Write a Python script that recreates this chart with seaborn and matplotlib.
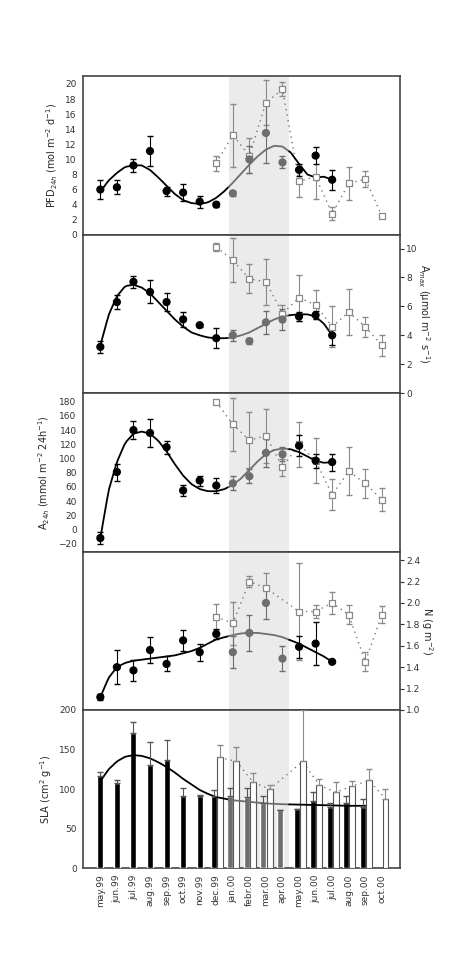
import numpy as np
import matplotlib
matplotlib.use("Agg")
import matplotlib.pyplot as plt
import seaborn as sns

sns.set_theme(style="white")
plt.rcParams['font.family'] = ['DejaVu Sans']

months = ["may.99", "jun.99", "jul.99", "aug.99", "sep.99", "oct.99", "nov.99", "dec.99",
          "jan.00", "febr.00", "mar.00", "apr.00", "may.00", "jun.00", "jul.00", "aug.00",
          "sep.00", "oct.00"]
circ_x = list(range(15))
sq_x = list(range(7, 18))
curve_x = [0, 0.5, 1, 1.5, 2, 2.5, 3, 3.5, 4, 4.5, 5, 5.5, 6, 6.5, 7, 7.5, 8, 8.5, 9, 9.5,
           10, 10.5, 11, 11.5, 12, 12.5, 13, 13.5, 14]

# PFD
pfd_c = [6.0, 6.3, 9.2, 11.1, 5.8, 5.6, 4.4, 4.0, 5.5, 10.0, 13.5, 9.6, 8.6, 10.5, 7.3]
pfd_ce = [1.3, 0.9, 0.9, 2.0, 0.6, 1.1, 0.8, 0.3, 0.3, 1.8, 4.0, 0.8, 0.8, 1.1, 1.3]
pfd_s = [9.5, 13.2, 10.5, 17.5, 19.3, 7.1, 7.7, 2.8, 6.8, 7.4, 2.5]
pfd_se = [1.0, 4.2, 2.3, 3.0, 0.9, 2.1, 2.9, 0.9, 2.2, 1.1, 0.3]
pfd_fit = [5.7, 7.2, 8.2, 9.0, 9.2, 9.2, 8.6, 7.6, 6.5, 5.4, 4.6, 4.2, 4.1, 4.3, 4.9, 5.8,
           6.9, 8.1, 9.3, 10.4, 11.3, 11.8, 11.7, 10.9, 9.4, 8.0, 7.6, 7.7, 7.3]
# Amax
amax_c = [3.2, 6.3, 7.7, 7.0, 6.3, 5.1, 4.7, 3.8, 4.0, 3.6, 4.9, 5.1, 5.3, 5.4, 4.0]
amax_ce = [0.4, 0.5, 0.4, 0.8, 0.6, 0.5, 0.1, 0.7, 0.4, 0.2, 0.8, 0.7, 0.3, 0.3, 0.7]
amax_s = [10.1, 9.2, 7.9, 7.7, 5.5, 6.6, 6.1, 4.6, 5.6, 4.6, 3.3]
amax_se = [0.3, 1.5, 1.0, 1.6, 0.6, 1.6, 1.0, 1.4, 1.6, 0.7, 0.7]
amax_fit = [3.3, 5.4, 6.7, 7.4, 7.5, 7.3, 6.9, 6.3, 5.7, 5.1, 4.6, 4.2, 4.0, 3.85, 3.8, 3.8,
            3.85, 4.0, 4.2, 4.5, 4.8, 5.1, 5.3, 5.4, 5.45, 5.45, 5.3, 4.8, 4.0]
# A24h
a24_c = [-12, 81, 140, 136, 116, 55, 69, 62, 65, 75, 108, 106, 118, 97, 95]
a24_ce = [8, 12, 13, 20, 9, 8, 7, 10, 10, 10, 20, 10, 15, 10, 12]
a24_s = [180, 148, 126, 132, 88, 120, 97, 49, 82, 65, 42]
a24_se = [3, 37, 40, 38, 12, 32, 32, 22, 34, 20, 16]
a24_fit = [-12, 55, 95, 122, 135, 138, 135, 125, 110, 92, 76, 64, 57, 54, 54, 57, 63, 72,
           84, 96, 106, 112, 114, 113, 109, 103, 97, 94, 95]
# N
n_c = [1.12, 1.40, 1.37, 1.56, 1.43, 1.65, 1.54, 1.71, 1.54, 1.72, 2.00, 1.48, 1.59, 1.62, 1.45]
n_ce = [0.03, 0.16, 0.10, 0.12, 0.07, 0.10, 0.08, 0.05, 0.15, 0.17, 0.15, 0.12, 0.10, 0.20, 0.0]
n_sx = [7, 8, 9, 10, 12, 13, 14, 15, 16, 17]
n_s = [1.87, 1.81, 2.20, 2.14, 1.92, 1.92, 2.00, 1.89, 1.45, 1.89]
n_se = [0.12, 0.20, 0.05, 0.14, 0.45, 0.06, 0.10, 0.09, 0.09, 0.08]
n_fit = [1.12, 1.30, 1.40, 1.44, 1.46, 1.47, 1.48, 1.49, 1.50, 1.51, 1.53, 1.55, 1.58, 1.62,
         1.66, 1.68, 1.70, 1.715, 1.72, 1.72, 1.71, 1.70, 1.68, 1.65, 1.62, 1.58, 1.54, 1.50, 1.45]
# SLA
sla_bx = list(range(17))
sla_b = [117, 108, 171, 130, 137, 92, 92, 92, 92, 90, 82, 74, 75, 85, 78, 82, 78]
sla_be = [5, 4, 14, 30, 25, 9, 1, 7, 9, 12, 9, 0, 0, 11, 5, 10, 10]
sla_wx = [7, 8, 9, 10, 12, 13, 14, 15, 16, 17]
sla_w = [140, 135, 109, 100, 135, 105, 96, 104, 111, 88]
sla_we = [16, 18, 12, 5, 65, 8, 13, 6, 14, 12]
sla_fit_x = [0, 0.5, 1, 1.5, 2, 2.5, 3, 3.5, 4, 4.5, 5, 5.5, 6, 6.5, 7, 7.5, 8, 9, 10, 11,
             12, 13, 14, 15, 16]
sla_fit = [110, 125, 135, 141, 143, 142, 139, 134, 128, 121, 113, 106, 99, 94, 90, 88, 86,
           84, 82, 81, 80.5, 80, 79.5, 79, 79]

GRAY = "#6e6e6e"
EGRAY = "#8a8a8a"
SH0, SH1 = 7.75, 11.4


def fit_line(ax, xs, ys):
    xs = np.array(xs); ys = np.array(ys)
    for lo, hi, col in [(-1, SH0, "black"), (SH0, SH1, GRAY), (SH1, 30, "black")]:
        a = max(xs[0], lo); b = min(xs[-1], hi)
        if b <= a:
            continue
        xi = np.linspace(a, b, 60)
        ax.plot(xi, np.interp(xi, xs, ys), color=col, lw=1.3, zorder=3)


def points(ax, cy, ce, sx, sy, se):
    cx = np.array(circ_x)
    cols = ["black" if (x < 8 or x > 11) else GRAY for x in cx]
    ax.plot(sx, sy, ls=(0, (1, 3)), color="#777777", lw=1, zorder=2)
    ax.errorbar(sx, sy, yerr=se, fmt="none", ecolor=EGRAY, capsize=2, lw=0.8, zorder=4)
    ax.scatter(sx, sy, marker="s", s=24, facecolor="white", edgecolor=EGRAY, lw=0.9, zorder=5)
    for x, y, e, c in zip(cx, cy, ce, cols):
        ax.errorbar(x, y, yerr=e, fmt="none", ecolor=c, capsize=2, lw=0.8, zorder=4)
    ax.scatter(cx, cy, s=24, c=cols, zorder=6)


fig, axes = plt.subplots(5, 1, figsize=(4.74, 9.67), dpi=100, sharex=True,
                         gridspec_kw=dict(hspace=0))
fig.subplots_adjust(left=0.175, right=0.844, top=0.921, bottom=0.102)

for ax in axes:
    ax.axvspan(SH0, SH1, color="#ebebeb", zorder=0, lw=0)
    ax.set_xlim(-1.05, 18.1)
    for s in ax.spines.values():
        s.set_color("#444444"); s.set_linewidth(1.2)
    ax.tick_params(axis="both", direction="out", labelsize=6.5, length=3, width=0.8,
                   colors="#333333", pad=1.5)
    ax.tick_params(axis="x", direction="in", length=4)

ax = axes[0]
points(ax, pfd_c, pfd_ce, sq_x, pfd_s, pfd_se)
fit_line(ax, curve_x, pfd_fit)
ax.set_ylim(0, 21)
ax.set_yticks(range(0, 21, 2))
ax.set_ylabel("PFD$_{24h}$ (mol m$^{-2}$ d$^{-1}$)", fontsize=7)

ax = axes[1]
points(ax, amax_c, amax_ce, sq_x, amax_s, amax_se)
fit_line(ax, curve_x, amax_fit)
ax.set_ylim(0, 10.95)
ax.set_yticks(range(0, 11, 2))
ax.yaxis.tick_right(); ax.yaxis.set_label_position("right")
ax.set_ylabel("A$_{max}$ (µmol m$^{-2}$ s$^{-1}$)", fontsize=7, rotation=270, labelpad=10)

ax = axes[2]
points(ax, a24_c, a24_ce, sq_x, a24_s, a24_se)
fit_line(ax, curve_x, a24_fit)
ax.set_ylim(-31, 192)
ax.set_yticks(range(-20, 181, 20))
ax.set_ylabel("A$_{24h}$ (mmol m$^{-2}$ 24h$^{-1}$)", fontsize=7)

ax = axes[3]
points(ax, n_c, n_ce, n_sx, n_s, n_se)
fit_line(ax, curve_x, n_fit)
ax.set_ylim(1.0, 2.48)
ax.set_yticks(np.arange(1.0, 2.41, 0.2))
ax.yaxis.set_major_formatter(matplotlib.ticker.FormatStrFormatter("%.1f"))
ax.yaxis.tick_right(); ax.yaxis.set_label_position("right")
ax.set_ylabel("N (g m$^{-2}$)", fontsize=7, rotation=270, labelpad=10)

ax = axes[4]
bcols = ["black" if (x < 8 or x > 11) else GRAY for x in sla_bx]
bx = [x - 0.15 if x >= 7 else x for x in sla_bx]
ax.bar(bx, sla_b, width=0.36, color=bcols, zorder=3)
ax.errorbar(bx, sla_b, yerr=[np.zeros(len(sla_be)), sla_be], fmt="none", ecolor="#555555",
            capsize=2, lw=0.8, zorder=4)
wx = [x + 0.22 for x in sla_wx]
ax.plot(wx, sla_w, ls=(0, (1, 3)), color="#777777", lw=1, zorder=2)
ax.bar(wx, sla_w, width=0.36, color="white", edgecolor="#555555", lw=0.8, zorder=3)
ax.errorbar(wx, sla_w, yerr=[np.zeros(len(sla_we)), sla_we], fmt="none", ecolor=EGRAY,
            capsize=2, lw=0.8, zorder=4)
fit_line(ax, sla_fit_x, sla_fit)
ax.set_ylim(0, 200)
ax.set_yticks(range(0, 201, 50))
ax.set_ylabel("SLA (cm$^2$ g$^{-1}$)", fontsize=7)
ax.set_xticks(range(len(months)))
ax.set_xticklabels(months, rotation=90, fontsize=6.5)
ax.tick_params(axis="x", direction="out", length=3)

fig.savefig("out.png", dpi=100)
